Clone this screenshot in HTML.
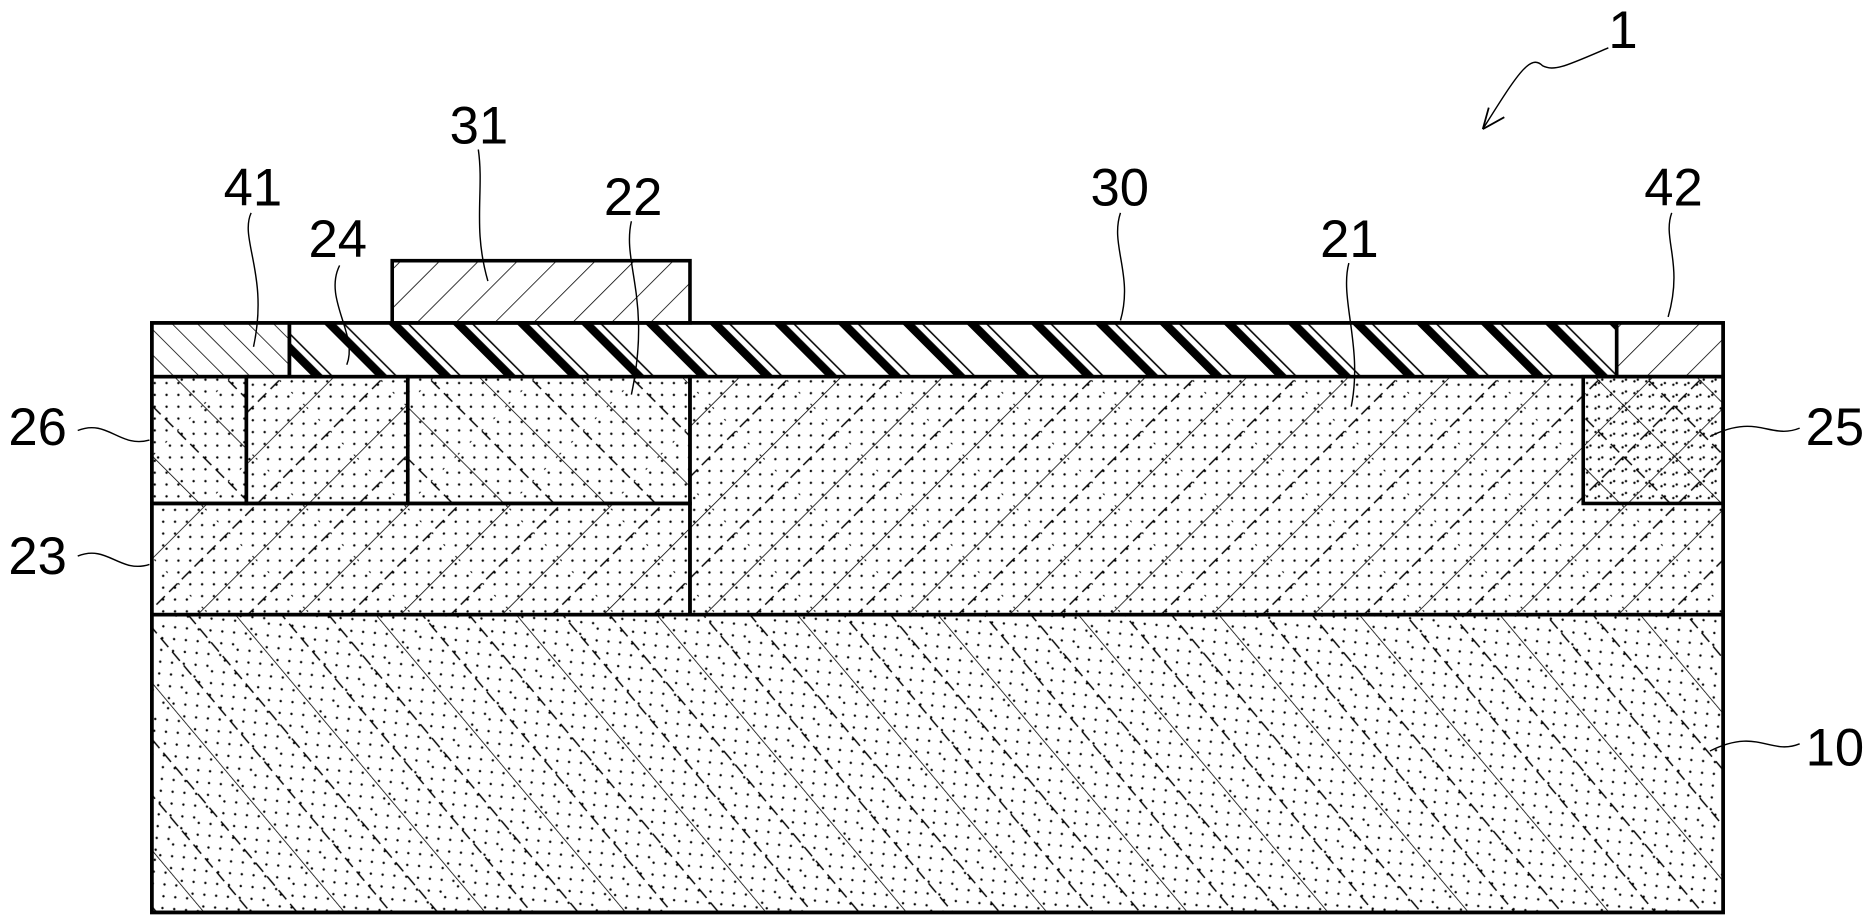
<!DOCTYPE html>
<html><head><meta charset="utf-8"><style>
html,body{margin:0;padding:0;background:#fff;width:1875px;height:922px;overflow:hidden}
svg{display:block}
text{font-family:"Liberation Sans",sans-serif;font-size:44px;fill:#000}
</style></head><body>
<svg width="1875" height="922" viewBox="0 0 1568 771" preserveAspectRatio="none">
<defs>
<pattern id="dots" width="14" height="14" patternUnits="userSpaceOnUse">
<circle cx="3" cy="4" r="1" fill="#000"/><circle cx="10" cy="11" r="1" fill="#000"/></pattern>
<pattern id="bs" width="60" height="60" patternUnits="userSpaceOnUse" patternTransform="rotate(-45)">
<rect width="60" height="60" fill="url(#dots)"/>
<line x1="0" y1="0" x2="0" y2="60" stroke="#000" stroke-width="1.3"/>
<line x1="30" y1="0" x2="30" y2="60" stroke="#000" stroke-width="1.2" stroke-dasharray="10,5"/></pattern>
<pattern id="fs" width="60" height="60" patternUnits="userSpaceOnUse" patternTransform="rotate(45)">
<rect width="60" height="60" fill="url(#dots)"/>
<line x1="0" y1="0" x2="0" y2="60" stroke="#000" stroke-width="1.3"/>
<line x1="30" y1="0" x2="30" y2="60" stroke="#000" stroke-width="1.2" stroke-dasharray="10,5"/></pattern>
<pattern id="sub" width="90" height="90" patternUnits="userSpaceOnUse" patternTransform="rotate(-40)">
<rect width="90" height="90" fill="url(#dots)"/>
<line x1="0" y1="0" x2="0" y2="90" stroke="#000" stroke-width="1.3"/>
<line x1="30" y1="0" x2="30" y2="90" stroke="#000" stroke-width="1.2" stroke-dasharray="10,5"/>
<line x1="60" y1="0" x2="60" y2="90" stroke="#000" stroke-width="1.2" stroke-dasharray="10,5"/></pattern>
<pattern id="h30" width="38" height="38" patternUnits="userSpaceOnUse" patternTransform="rotate(-45)">
<rect x="0" y="0" width="7" height="38" fill="#000"/><line x1="12" y1="0" x2="12" y2="38" stroke="#000" stroke-width="1.3"/></pattern>
<pattern id="fw" width="23" height="23" patternUnits="userSpaceOnUse" patternTransform="rotate(45)">
<line x1="0" y1="0" x2="0" y2="23" stroke="#000" stroke-width="1.3"/></pattern>
<pattern id="bw" width="15" height="15" patternUnits="userSpaceOnUse" patternTransform="rotate(-45)">
<line x1="0" y1="0" x2="0" y2="15" stroke="#000" stroke-width="1.3"/></pattern>
</defs>
<g stroke="#000" stroke-width="3">
<rect x="127" y="514" width="1314" height="249" fill="url(#sub)"/>
<rect x="577" y="315" width="864" height="199" fill="url(#fs)"/>
<rect x="127" y="421" width="450" height="93" fill="url(#fs)"/>
<rect x="127" y="315" width="79" height="106" fill="url(#bs)"/>
<rect x="206" y="315" width="135" height="106" fill="url(#fs)"/>
<rect x="341" y="315" width="236" height="106" fill="url(#bs)"/>
<rect x="1324" y="315" width="117" height="106" fill="url(#bs)"/>
<rect x="127" y="270" width="115" height="45" fill="url(#bw)"/>
<rect x="242" y="270" width="1110" height="45" fill="url(#h30)"/>
<rect x="1352" y="270" width="89" height="45" fill="url(#fw)"/>
<rect x="328" y="218" width="249" height="52" fill="url(#fw)"/>
<rect x="127" y="270" width="1314" height="493" fill="none"/>
</g>
<g fill="none" stroke="#000" stroke-width="1.2">
<path d="M210,178 C200,200 225,230 212,290"/>
<path d="M284,222 C270,250 300,280 290,305"/>
<path d="M400,125 C405,160 395,190 408,235"/>
<path d="M528,185 C520,220 545,250 528,330"/>
<path d="M937,178 C928,205 948,230 937,268"/>
<path d="M1128,220 C1120,250 1140,290 1130,340"/>
<path d="M1398,178 C1390,200 1408,220 1395,265"/>
<path d="M65,360 C90,350 100,375 125,368"/>
<path d="M65,465 C90,455 100,480 125,472"/>
<path d="M1505,358 C1480,368 1470,345 1430,365"/>
<path d="M1505,622 C1480,632 1470,608 1430,628"/>
<path d="M1345,40 C1310,55 1300,60 1290,55 C1280,45 1270,60 1240,108"/>
<path d="M1240,108 L1245,90 M1240,108 L1258,98" stroke-width="1.5"/>
</g>
<text x="1345" y="40">1</text>
<text x="376" y="120">31</text>
<text x="187" y="172">41</text>
<text x="505" y="180">22</text>
<text x="258" y="215">24</text>
<text x="912" y="172">30</text>
<text x="1104" y="215">21</text>
<text x="1375" y="172">42</text>
<text x="7" y="372">26</text>
<text x="7" y="480">23</text>
<text x="1510" y="372">25</text>
<text x="1510" y="640">10</text>
</svg>
</body></html>
